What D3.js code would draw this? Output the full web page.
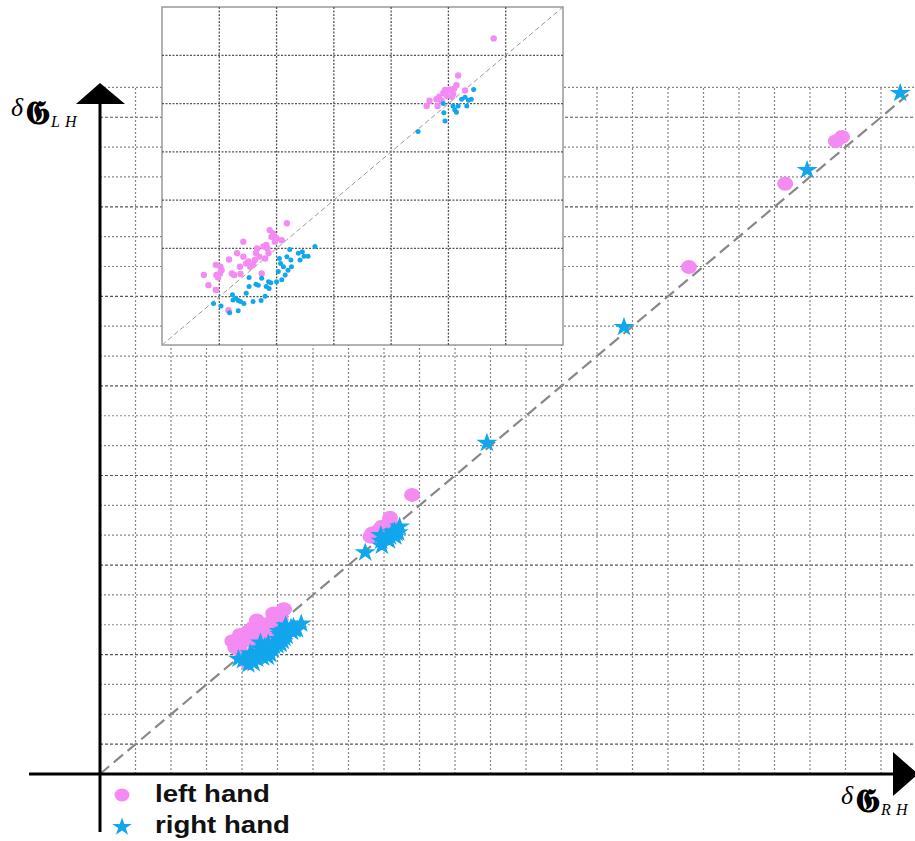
<!DOCTYPE html>
<html><head><meta charset="utf-8">
<script src="https://cdn.jsdelivr.net/npm/d3@7"></script>
<style>
html,body{margin:0;padding:0;background:#fff;}
svg{display:block;}
</style></head>
<body>
<script>
// ---- data (grid units of the main chart) ----
const leftHandX = [3.73,3.81,3.94,3.94,3.95,3.98,4.01,4.04,4.02,4.17,4.16,4.22,4.26,4.31,4.36,4.37,4.42,4.42,4.47,4.51,4.54,4.59,4.64,4.66,4.70,4.74,4.77,4.82,4.84,4.88,4.91,4.94,4.97,5.00,5.09,5.18,4.86,4.80,4.62,
  7.62,7.67,7.79,7.81,7.84,7.88,7.91,7.94,7.97,8.00,8.03,8.06,8.08,8.10,8.14,8.17,8.29,8.79,
  16.59,19.30,20.73,20.90];
const leftHandY = [4.45,4.24,4.66,4.14,4.45,4.40,4.48,4.55,4.62,4.77,3.72,4.48,4.45,4.90,4.62,4.47,5.14,4.83,4.69,4.73,4.62,4.66,4.90,5.00,4.83,4.48,5.04,5.07,5.00,5.38,5.24,5.31,5.14,5.21,5.17,5.52,4.90,4.79,4.76,
  7.95,8.06,8.09,7.95,8.14,8.06,8.22,8.28,8.16,8.27,8.29,8.14,8.20,8.31,8.38,8.58,8.27,9.35,
  16.98,19.77,21.20,21.34];
const rightHandX = [3.90,4.03,4.18,4.23,4.24,4.29,4.33,4.37,4.33,4.43,4.47,4.52,4.52,4.59,4.64,4.68,4.73,4.74,4.80,4.82,4.86,4.87,4.90,5.00,5.03,5.05,5.07,5.09,5.12,5.15,5.18,5.20,5.23,5.25,5.26,5.38,5.41,5.45,5.48,5.55,5.67,
  7.47,7.91,7.92,7.94,8.08,8.11,8.14,8.17,8.23,8.29,8.32,8.35,8.40,8.44,
  10.90,14.76,19.92,22.54];
const rightHandY = [3.86,3.81,3.67,4.04,3.93,3.97,3.92,3.90,3.71,3.86,4.07,4.21,4.40,3.90,4.26,4.24,3.92,4.38,4.01,4.21,4.31,4.17,4.29,4.31,4.52,4.79,4.69,4.35,4.62,4.45,4.83,4.55,4.98,4.76,4.62,4.90,4.76,4.93,4.84,4.84,5.04,
  7.42,8.00,7.81,7.64,7.95,7.87,7.82,7.95,8.09,8.13,7.95,8.07,8.09,8.29,
  11.09,14.97,20.23,22.81];
const seriesNames = ["left hand", "right hand"];
const mainDomain = [0, 23];
const insetDomain = [3, 10];
const diagonalEnd = 22.8;

const pink = "#f38bf3", blue = "#12a6ec";

const W = 915, H = 841;
const svg = d3.select("body").append("svg").attr("width", W).attr("height", H);

// main scales
const x = d3.scaleLinear().domain(mainDomain).range([100, 916.5]);
const y = d3.scaleLinear().domain(mainDomain).range([774, 87.4]);
const ticks = d3.range(1, 24);

const grid = svg.append("g");
grid.selectAll("line.h").data(ticks).join("line")
  .attr("x1", x(0)).attr("x2", W)
  .attr("y1", d => y(d)).attr("y2", d => y(d))
  .attr("stroke", d => d % 3 === 1 ? "#555" : "#888")
  .attr("stroke-width", 1.2)
  .attr("stroke-dasharray", d => d % 3 === 1 ? "3,2" : "2,2");
grid.selectAll("line.v").data(ticks).join("line")
  .attr("y1", y(0)).attr("y2", y(23))
  .attr("x1", d => x(d)).attr("x2", d => x(d))
  .attr("stroke", "#888").attr("stroke-width", 1.2)
  .attr("stroke-dasharray", "2,2");

// diagonal
svg.append("line")
  .attr("x1", x(0)).attr("y1", y(0)).attr("x2", x(diagonalEnd)).attr("y2", y(diagonalEnd))
  .attr("stroke", "#888").attr("stroke-width", 2.2).attr("stroke-dasharray", "12,6");

const lh = leftHandX.map((v, i) => [v, leftHandY[i]]);
const rh = rightHandX.map((v, i) => [v, rightHandY[i]]);

const starPath = d3.symbol().type(d3.symbolStar).size(115)();
svg.append("g").selectAll("ellipse").data(lh).join("ellipse")
  .attr("cx", d => x(d[0])).attr("cy", d => y(d[1]))
  .attr("rx", 8).attr("ry", 7).attr("fill", pink);
svg.append("g").selectAll("path").data(rh).join("path")
  .attr("d", starPath)
  .attr("transform", d => `translate(${x(d[0])},${y(d[1])}) scale(1.1,1)`)
  .attr("fill", blue);

// axes with arrows
svg.append("line").attr("x1", 29).attr("x2", 895).attr("y1", y(0)).attr("y2", y(0))
  .attr("stroke", "#000").attr("stroke-width", 3);
svg.append("line").attr("x1", x(0)).attr("x2", x(0)).attr("y1", 832).attr("y2", 100)
  .attr("stroke", "#000").attr("stroke-width", 3);
svg.append("path").attr("d", `M${x(0)},83 L${x(0)+25},104 L${x(0)-24},104 Z`).attr("fill", "#000");
svg.append("path").attr("d", `M918,${y(0)} L893,${y(0)-22} L893,${y(0)+22} Z`).attr("fill", "#000");

// axis labels
function axisLabel(g, sub) {
  g.append("tspan").attr("font-family", "Liberation Serif").attr("font-style", "italic").attr("font-size", 26).text("δ");
  g.append("tspan").attr("font-family", "DejaVu Serif, DejaVu Sans, serif").attr("font-weight", "bold").attr("font-size", 33).attr("dx", 2).attr("dy", 8).text("𝕲");
  g.append("tspan").attr("font-family", "Liberation Serif").attr("font-style", "italic").attr("font-size", 16).attr("dx", "1 5").attr("dy", 3).text(sub);
}
axisLabel(svg.append("text").attr("x", 11).attr("y", 116), "LH");
axisLabel(svg.append("text").attr("x", 841).attr("y", 804), "RH");

// legend
const legend = svg.append("g");
legend.append("ellipse").attr("cx", 122).attr("cy", 795).attr("rx", 7.5).attr("ry", 6.5).attr("fill", pink);
legend.append("path").attr("d", d3.symbol().type(d3.symbolStar).size(100)()).attr("transform", "translate(122,827) scale(1.1,1)").attr("fill", blue);
legend.selectAll("text").data(seriesNames).join("text")
  .attr("transform", (d, i) => `translate(155,${802 + i * 31}) scale(1.2,1)`)
  .attr("font-family", "Liberation Sans, Arial, sans-serif").attr("font-weight", "bold").attr("font-size", 23)
  .attr("fill", "#111").text(d => d);

// ---- inset ----
const ix = d3.scaleLinear().domain(insetDomain).range([162, 563]);
const iy = d3.scaleLinear().domain(insetDomain).range([345, 7]);
const inset = svg.append("g");
inset.append("rect").attr("x", 162).attr("y", 7).attr("width", 401).attr("height", 338)
  .attr("fill", "#fff").attr("stroke", "#999").attr("stroke-width", 1.5);
const iticks = d3.range(4, 10);
inset.selectAll("line.h").data(iticks).join("line")
  .attr("x1", ix(3)).attr("x2", ix(10)).attr("y1", d => iy(d)).attr("y2", d => iy(d))
  .attr("stroke", "#555").attr("stroke-width", 1.3).attr("stroke-dasharray", "2,1.5");
inset.selectAll("line.v").data(iticks).join("line")
  .attr("y1", iy(3)).attr("y2", iy(10)).attr("x1", d => ix(d)).attr("x2", d => ix(d))
  .attr("stroke", "#555").attr("stroke-width", 1.3).attr("stroke-dasharray", "2,1.5");
inset.append("line").attr("x1", ix(3)).attr("y1", iy(3)).attr("x2", ix(10)).attr("y2", iy(10))
  .attr("stroke", "#999").attr("stroke-width", 1).attr("stroke-dasharray", "5,3");
const inDom = d => d[0] >= 3 && d[0] <= 10 && d[1] >= 3 && d[1] <= 10;
inset.append("g").selectAll("circle").data(lh.filter(inDom)).join("circle")
  .attr("cx", d => ix(d[0])).attr("cy", d => iy(d[1])).attr("r", 3.2).attr("fill", pink);
inset.append("g").selectAll("circle").data(rh.filter(inDom)).join("circle")
  .attr("cx", d => ix(d[0])).attr("cy", d => iy(d[1])).attr("r", 2.5).attr("fill", blue);
</script>
</body></html>
